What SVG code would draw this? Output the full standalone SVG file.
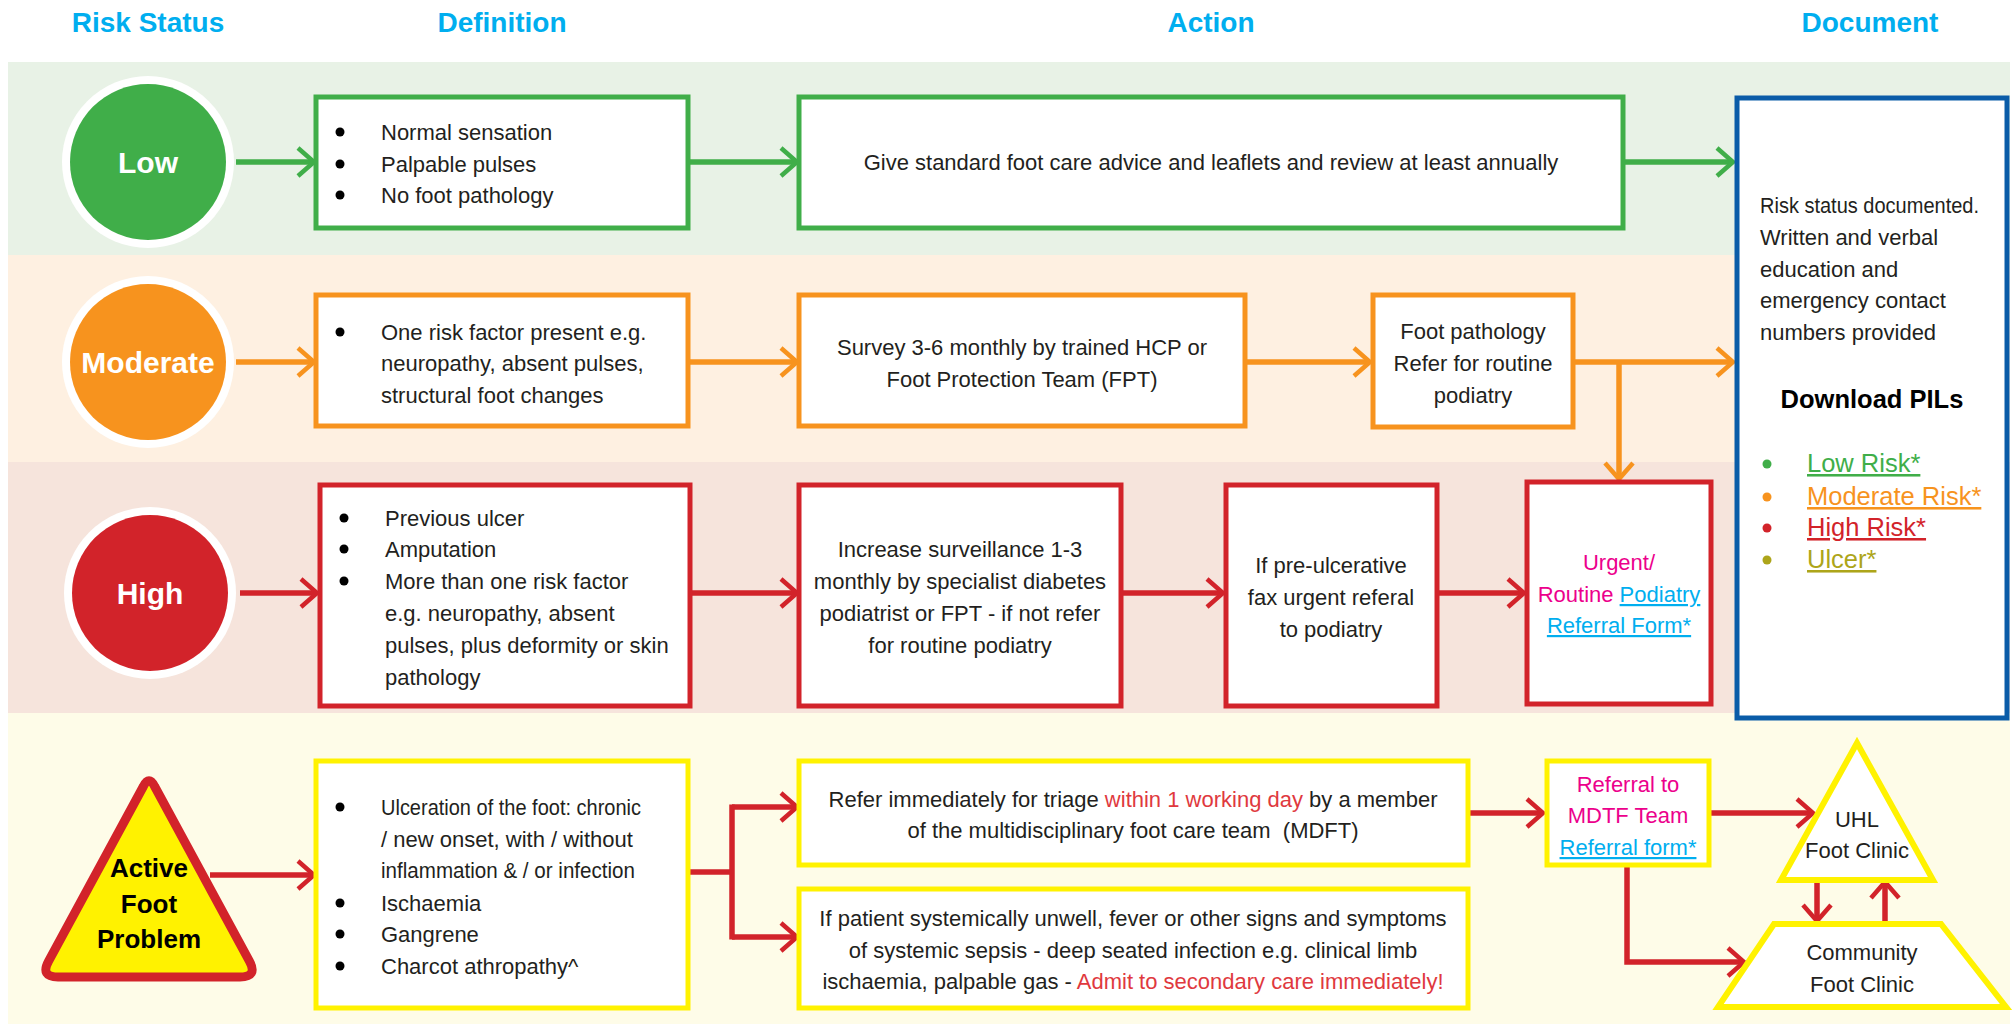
<svg xmlns="http://www.w3.org/2000/svg" width="2013" height="1024" viewBox="0 0 2013 1024">
<defs>
<style>
.hd{font-family:"Liberation Sans",Arial,sans-serif;font-weight:bold;font-size:28px;fill:#00AEEF;text-anchor:middle}
.t{font-family:"Liberation Sans",Arial,sans-serif;font-size:22px;fill:#231F20}
.c{text-anchor:middle}
.lbl{font-family:"Liberation Sans",Arial,sans-serif;font-weight:bold;font-size:30px;fill:#fff;text-anchor:middle}
.afp{font-family:"Liberation Sans",Arial,sans-serif;font-weight:bold;font-size:26px;fill:#000;text-anchor:middle}
.pil{font-family:"Liberation Sans",Arial,sans-serif;font-size:25.5px;text-decoration:underline}
.box{fill:#fff;stroke-width:5}
.g{stroke:#40AE49}.o{stroke:#F7931E}.r{stroke:#D2232A}.y{stroke:#FFF200}.b{stroke:#0A5CA8}
.cg{stroke:#40AE49;stroke-width:5.5;fill:none}
.co{stroke:#F7931E;stroke-width:5.5;fill:none}
.cr{stroke:#D2232A;stroke-width:5.5;fill:none}
.mag{fill:#EC008C}.cy{fill:#00AEEF;text-decoration:underline}
.red{fill:#E0393E}
</style>
<marker id="mg" markerUnits="userSpaceOnUse" viewBox="0 0 24 36" markerWidth="24" markerHeight="36" refX="20" refY="18" orient="auto"><path d="M4,4 L20,18 L4,32" fill="none" stroke="#40AE49" stroke-width="4.5"/></marker>
<marker id="mo" markerUnits="userSpaceOnUse" viewBox="0 0 24 36" markerWidth="24" markerHeight="36" refX="20" refY="18" orient="auto"><path d="M4,4 L20,18 L4,32" fill="none" stroke="#F7931E" stroke-width="4.5"/></marker>
<marker id="mr" markerUnits="userSpaceOnUse" viewBox="0 0 24 36" markerWidth="24" markerHeight="36" refX="20" refY="18" orient="auto"><path d="M4,4 L20,18 L4,32" fill="none" stroke="#D2232A" stroke-width="4.5"/></marker>
</defs>
<rect width="2013" height="1024" fill="#fff"/>
<g id="headers">
<text class="hd" x="148" y="32">Risk Status</text>
<text class="hd" x="502" y="32">Definition</text>
<text class="hd" x="1211" y="32">Action</text>
<text class="hd" x="1870" y="32">Document</text>
</g>
<g id="bands">
<rect x="8" y="62" width="2002" height="193" fill="#E8F2E6"/>
<rect x="8" y="255" width="2002" height="207" fill="#FEF0E1"/>
<rect x="8" y="462" width="2002" height="251" fill="#F6E4DC"/>
<rect x="8" y="713" width="2002" height="311" fill="#FEFCE8"/>
</g>
<g id="connectors">
<path class="cg" d="M236,162 H314" marker-end="url(#mg)"/>
<path class="cg" d="M690,162 H797" marker-end="url(#mg)"/>
<path class="cg" d="M1625,162 H1733" marker-end="url(#mg)"/>
<path class="co" d="M236,362 H314" marker-end="url(#mo)"/>
<path class="co" d="M690,362 H797" marker-end="url(#mo)"/>
<path class="co" d="M1247,362 H1370" marker-end="url(#mo)"/>
<path class="co" d="M1575,362 H1733" marker-end="url(#mo)"/>
<path class="co" d="M1619,362 V479" marker-end="url(#mo)"/>
<path class="cr" d="M240,593 H317" marker-end="url(#mr)"/>
<path class="cr" d="M692,593 H797" marker-end="url(#mr)"/>
<path class="cr" d="M1123,593 H1223" marker-end="url(#mr)"/>
<path class="cr" d="M1439,593 H1524" marker-end="url(#mr)"/>
<path class="cr" d="M210,875 H314" marker-end="url(#mr)"/>
<path class="cr" d="M690,872 H732 M732,804.5 V939.5"/>
<path class="cr" d="M732,807 H797" marker-end="url(#mr)"/>
<path class="cr" d="M732,937 H797" marker-end="url(#mr)"/>
<path class="cr" d="M1470,813 H1543" marker-end="url(#mr)"/>
<path class="cr" d="M1711,813 H1813" marker-end="url(#mr)"/>
<path class="cr" d="M1627,867 V962 H1744" marker-end="url(#mr)"/>
<path class="cr" d="M1817,883 V921" marker-end="url(#mr)"/>
<path class="cr" d="M1885,921 V882" marker-end="url(#mr)"/>
</g>
<g id="low">
<circle cx="148" cy="162" r="86" fill="#fff"/>
<circle cx="148" cy="162" r="78" fill="#40AE49"/>
<text class="lbl" x="148" y="173">Low</text>
</g>
<g id="low-def">
<rect class="box g" x="316" y="97" width="372" height="131"/>
<circle cx="340" cy="132" r="4.5"/><circle cx="340" cy="164" r="4.5"/><circle cx="340" cy="195" r="4.5"/>
<text class="t" x="381" y="140">Normal sensation</text>
<text class="t" x="381" y="172">Palpable pulses</text>
<text class="t" x="381" y="203">No foot pathology</text>
</g>
<g id="low-action">
<rect class="box g" x="799" y="97" width="824" height="131"/>
<text class="t c" x="1211" y="170">Give standard foot care advice and leaflets and review at least annually</text>
</g>
<g id="document">
<rect class="box b" x="1737" y="98" width="270" height="620"/>
<text class="t" x="1760" y="213" textLength="219" lengthAdjust="spacingAndGlyphs">Risk status documented.</text>
<text class="t" x="1760" y="245">Written and verbal</text>
<text class="t" x="1760" y="277">education and</text>
<text class="t" x="1760" y="308">emergency contact</text>
<text class="t" x="1760" y="340">numbers provided</text>
<text x="1872" y="408" style="font-family:'Liberation Sans',Arial,sans-serif;font-weight:bold;font-size:25.5px;fill:#000;text-anchor:middle">Download PILs</text>
<circle cx="1767" cy="464" r="4.5" fill="#40AE49"/>
<circle cx="1767" cy="497" r="4.5" fill="#F7931E"/>
<circle cx="1767" cy="528" r="4.5" fill="#D2232A"/>
<circle cx="1767" cy="560" r="4.5" fill="#ADA51A"/>
<text class="pil" x="1807" y="472" fill="#40AE49">Low Risk*</text>
<text class="pil" x="1807" y="505" fill="#F7931E">Moderate Risk*</text>
<text class="pil" x="1807" y="536" fill="#D2232A">High Risk*</text>
<text class="pil" x="1807" y="568" fill="#ADA51A">Ulcer*</text>
</g>
<g id="moderate">
<circle cx="148" cy="362" r="86" fill="#fff"/>
<circle cx="148" cy="362" r="78" fill="#F7931E"/>
<text class="lbl" x="148" y="373">Moderate</text>
</g>
<g id="moderate-def">
<rect class="box o" x="316" y="295" width="372" height="131"/>
<circle cx="340" cy="332" r="4.5"/>
<text class="t" x="381" y="340">One risk factor present e.g.</text>
<text class="t" x="381" y="371">neuropathy, absent pulses,</text>
<text class="t" x="381" y="403">structural foot changes</text>
</g>
<g id="moderate-survey">
<rect class="box o" x="799" y="295" width="446" height="131"/>
<text class="t c" x="1022" y="355">Survey 3-6 monthly by trained HCP or</text>
<text class="t c" x="1022" y="387">Foot Protection Team (FPT)</text>
</g>
<g id="foot-pathology">
<rect class="box o" x="1373" y="295" width="200" height="132"/>
<text class="t c" x="1473" y="339">Foot pathology</text>
<text class="t c" x="1473" y="371">Refer for routine</text>
<text class="t c" x="1473" y="403">podiatry</text>
</g>
<g id="high">
<circle cx="150" cy="593" r="86" fill="#fff"/>
<circle cx="150" cy="593" r="78" fill="#D2232A"/>
<text class="lbl" x="150" y="604">High</text>
</g>
<g id="high-def">
<rect class="box r" x="320" y="485" width="370" height="221"/>
<circle cx="344" cy="518" r="4.5"/><circle cx="344" cy="549" r="4.5"/><circle cx="344" cy="581" r="4.5"/>
<text class="t" x="385" y="526">Previous ulcer</text>
<text class="t" x="385" y="557">Amputation</text>
<text class="t" x="385" y="589">More than one risk factor</text>
<text class="t" x="385" y="621">e.g. neuropathy, absent</text>
<text class="t" x="385" y="653">pulses, plus deformity or skin</text>
<text class="t" x="385" y="685">pathology</text>
</g>
<g id="high-surveillance">
<rect class="box r" x="799" y="485" width="322" height="221"/>
<text class="t c" x="960" y="557">Increase surveillance 1-3</text>
<text class="t c" x="960" y="589">monthly by specialist diabetes</text>
<text class="t c" x="960" y="621">podiatrist or FPT - if not refer</text>
<text class="t c" x="960" y="653">for routine podiatry</text>
</g>
<g id="pre-ulcerative">
<rect class="box r" x="1226" y="485" width="211" height="221"/>
<text class="t c" x="1331" y="573">If pre-ulcerative</text>
<text class="t c" x="1331" y="605">fax urgent referal</text>
<text class="t c" x="1331" y="637">to podiatry</text>
</g>
<g id="podiatry-referral">
<rect class="box r" x="1527" y="482" width="184" height="222"/>
<text class="t c mag" x="1619" y="570">Urgent/</text>
<text class="t c" x="1619" y="602"><tspan class="mag">Routine </tspan><tspan class="cy">Podiatry</tspan></text>
<text class="t c cy" x="1619" y="633">Referral Form*</text>
</g>
<g id="active">
<path d="M143.3,786.5 Q149,775 154.7,786.5 L249.4,961.2 Q258,977 240,977 L58,977 Q40,977 48.6,961.2 Z" fill="#FFF200" stroke="#D2232A" stroke-width="9" stroke-linejoin="round"/>
<text class="afp" x="149" y="877">Active</text>
<text class="afp" x="149" y="913">Foot</text>
<text class="afp" x="149" y="948">Problem</text>
</g>
<g id="active-def">
<rect class="box y" x="316" y="761" width="372" height="247"/>
<circle cx="340" cy="807" r="4.5"/><circle cx="340" cy="903" r="4.5"/><circle cx="340" cy="934" r="4.5"/><circle cx="340" cy="966" r="4.5"/>
<text class="t" x="381" y="815" textLength="260" lengthAdjust="spacingAndGlyphs">Ulceration of the foot: chronic</text>
<text class="t" x="381" y="847">/ new onset, with / without</text>
<text class="t" x="381" y="878" textLength="254" lengthAdjust="spacingAndGlyphs">inflammation &amp; / or infection</text>
<text class="t" x="381" y="911">Ischaemia</text>
<text class="t" x="381" y="942">Gangrene</text>
<text class="t" x="381" y="974">Charcot athropathy^</text>
</g>
<g id="triage">
<rect class="box y" x="799" y="761" width="669" height="104"/>
<text class="t c" x="1133" y="807">Refer immediately for triage <tspan class="red">within 1 working day</tspan> by a member</text>
<text class="t c" x="1133" y="838" xml:space="preserve">of the multidisciplinary foot care team  (MDFT)</text>
</g>
<g id="sepsis">
<rect class="box y" x="799" y="889" width="669" height="119"/>
<text class="t c" x="1133" y="926">If patient systemically unwell, fever or other signs and symptoms</text>
<text class="t c" x="1133" y="958">of systemic sepsis - deep seated infection e.g. clinical limb</text>
<text class="t c" x="1133" y="989">ischaemia, palpable gas - <tspan class="red">Admit to secondary care immediately!</tspan></text>
</g>
<g id="mdtf-referral">
<rect class="box y" x="1547" y="761" width="162" height="104"/>
<text class="t c mag" x="1628" y="792">Referral to</text>
<text class="t c mag" x="1628" y="823">MDTF Team</text>
<text class="t c cy" x="1628" y="855">Referral form*</text>
</g>
<g id="uhl">
<polygon points="1857,743 1781,880 1933,880" fill="#fff" stroke="#FFF200" stroke-width="6"/>
<text class="t c" x="1857" y="827">UHL</text>
<text class="t c" x="1857" y="858">Foot Clinic</text>
</g>
<g id="community">
<polygon points="1774,924 1941,924 2006,1007 1718,1007" fill="#fff" stroke="#FFF200" stroke-width="6"/>
<text class="t c" x="1862" y="960">Community</text>
<text class="t c" x="1862" y="992">Foot Clinic</text>
</g>
</svg>
